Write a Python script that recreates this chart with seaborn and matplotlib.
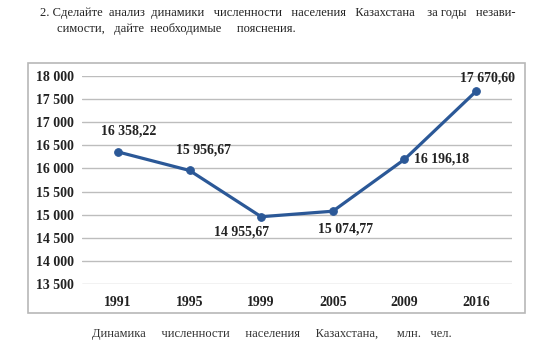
import matplotlib
matplotlib.use('Agg')
import matplotlib.pyplot as plt
import seaborn as sns
import pandas as pd
from matplotlib.patches import Rectangle

years = ['1991', '1995', '1999', '2005', '2009', '2016']
population = [16358.22, 15956.67, 14955.67, 15074.77, 16196.18, 17670.60]
label_texts = ['16 358,22', '15 956,67', '14 955,67', '15 074,77', '16 196,18', '17 670,60']
yticks = [13500, 14000, 14500, 15000, 15500, 16000, 16500, 17000, 17500, 18000]

df = pd.DataFrame({'year': years, 'pop': population})

sns.set_style('white')
plt.rcParams['font.family'] = ['Liberation Serif', 'DejaVu Serif']

fig = plt.figure(figsize=(5.5, 3.51), dpi=100)
ax = fig.add_axes([82/550, 67/351, 430/550, 208/351])

blue = '#2b5897'
sns.lineplot(data=df, x='year', y='pop', ax=ax, color=blue, linewidth=2.3,
             marker='o', markersize=5.5, markeredgecolor=blue, sort=False)

ax.set_xlim(-0.5, 5.5)
ax.set_ylim(13500, 18000)
ax.set_yticks(yticks)
ax.set_yticklabels([f'{v:,}'.replace(',', ' ') for v in yticks])
ax.grid(axis='y', color='#bdbdbd', linewidth=1.0)
ax.set_axisbelow(True)
for s in ax.spines.values():
    s.set_visible(False)
ax.tick_params(length=0, labelsize=10, colors='#222222', pad=6)
ax.tick_params(axis='x', pad=9)
for t in ax.get_xticklabels() + ax.get_yticklabels():
    t.set_fontweight('bold')
ax.set_xlabel('')
ax.set_ylabel('')

# data labels: (dx, dy) offsets in points, alignment
offsets = [(8, 10, 'center', 'bottom'), (10, 10, 'center', 'bottom'),
           (-14, -6, 'center', 'top'), (9, -8, 'center', 'top'),
           (7, 0, 'left', 'center'), (8, 5, 'center', 'bottom')]
for i, (txt, v) in enumerate(zip(label_texts, population)):
    dx, dy, ha, va = offsets[i]
    ax.annotate(txt, (i, v), xytext=(dx, dy), textcoords='offset points',
                ha=ha, va=va, fontsize=10, fontweight='bold', color='#222222')

# chart border
fig.patches.append(Rectangle((28/550, 38/351), 497/550, 250/351, transform=fig.transFigure,
                             fill=False, edgecolor='#b8b8b8', linewidth=1.2))

fig.text(40/550, 1 - 13/351,
         '2. Сделайте  анализ  динамики   численности   населения   Казахстана    за годы   незави-',
         ha='left', va='center', fontsize=9, color='#222222')
fig.text(57/550, 1 - 29/351, 'симости,   дайте  необходимые     пояснения.',
         ha='left', va='center', fontsize=9, color='#222222')
fig.text(272/550, 1 - 334/351,
         'Динамика     численности     населения     Казахстана,      млн.   чел.',
         ha='center', va='center', fontsize=9, color='#333333')

fig.savefig('out.png', dpi=100)
